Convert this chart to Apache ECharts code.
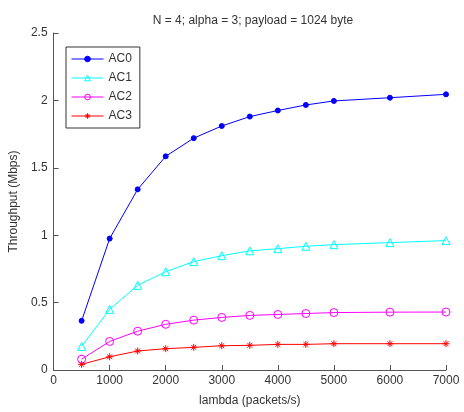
<!DOCTYPE html>
<html>
<head>
<meta charset="utf-8">
<script src="https://cdn.jsdelivr.net/npm/echarts@6/dist/echarts.min.js"></script>
<style>
  html, body { margin: 0; padding: 0; background: #fff; }
  #chart { width: 464px; height: 412px; }
</style>
</head>
<body>
<div id="chart"></div>
<script>
'use strict';

// 数据
const lambdaValues = [500, 1000, 1500, 2000, 2500, 3000, 3500, 4000, 4500, 5000, 6000, 7000];
const ac0 = [0.365, 0.975, 1.34, 1.585, 1.72, 1.81, 1.88, 1.925, 1.966, 1.996, 2.02, 2.045];
const ac1 = [0.175, 0.45, 0.628, 0.729, 0.804, 0.848, 0.884, 0.90, 0.918, 0.93, 0.945, 0.96];
const ac2 = [0.08, 0.212, 0.288, 0.339, 0.37, 0.39, 0.405, 0.412, 0.419, 0.426, 0.429, 0.43];
const ac3 = [0.042, 0.098, 0.141, 0.158, 0.168, 0.18, 0.183, 0.19, 0.19, 0.195, 0.195, 0.195];
const seriesNames = ['AC0', 'AC1', 'AC2', 'AC3'];

const FONT = 'Liberation Sans, Arial, sans-serif';
const TEXT = '#333';
const AXIS = '#555';

// 星号标记
const STAR = 'path://M0,-10L0,10M-10,0L10,0M-7,-7L7,7M-7,7L7,-7';

// 每条曲线的样式
const styles = [
    { color: '#0000ff', symbol: 'circle', size: 5, filled: true },
    { color: '#00ffff', symbol: 'triangle', size: 8, filled: false },
    { color: '#ff00ff', symbol: 'circle', size: 8, filled: false },
    { color: '#ff0000', symbol: STAR, size: 7, filled: false }
];

function pairs(ys) {
    return lambdaValues.map((x, i) => [x, ys[i]]);
}

function makeItemStyle(s) {
    return {
        color: s.filled ? s.color : 'rgba(0,0,0,0)',
        borderColor: s.color,
        borderWidth: 1
    };
}

function makeSeries(name, ys, s) {
    return {
        name: name,
        type: 'line',
        data: pairs(ys),
        symbol: s.symbol,
        symbolSize: s.size,
        showAllSymbol: true,
        lineStyle: { color: s.color, width: 1 },
        itemStyle: makeItemStyle(s),
        emphasis: { disabled: true },
        z: 3
    };
}

const chart = echarts.init(document.getElementById('chart'));

const option = {
    animation: false,
    backgroundColor: '#fff',
    title: {
        text: 'N = 4; alpha = 3; payload = 1024 byte',
        left: 248,
        textAlign: 'center',
        top: 10,
        textStyle: { fontFamily: FONT, fontSize: 12, fontWeight: 'normal', color: TEXT }
    },
    legend: {
        orient: 'vertical',
        left: 66,
        top: 47,
        padding: [6, 8, 6, 5],
        itemGap: 7,
        itemWidth: 32,
        itemHeight: 7,
        borderColor: '#333',
        borderWidth: 1,
        backgroundColor: '#fff',
        lineStyle: { width: 1 },
        data: seriesNames.map((n, i) => ({
            name: n,
            itemStyle: makeItemStyle(styles[i])
        })),
        textStyle: { fontFamily: FONT, fontSize: 12, color: TEXT }
    },
    grid: { left: 50, right: 18, top: 33, bottom: 37, containLabel: false },
    xAxis: {
        type: 'value',
        min: 0,
        max: 7000,
        interval: 1000,
        name: 'lambda (packets/s)',
        nameLocation: 'middle',
        nameGap: 25,
        nameTextStyle: { fontFamily: FONT, fontSize: 12, color: TEXT },
        axisLine: { show: true, lineStyle: { color: AXIS } },
        axisTick: { show: true, inside: true, length: 5, lineStyle: { color: AXIS } },
        axisLabel: { fontFamily: FONT, fontSize: 12, color: TEXT, margin: 5, formatter: v => String(v) },
        splitLine: { show: false }
    },
    yAxis: {
        type: 'value',
        min: 0,
        max: 2.5,
        interval: 0.5,
        name: 'Throughput (Mbps)',
        nameLocation: 'middle',
        nameGap: 22,
        nameTextStyle: { fontFamily: FONT, fontSize: 12, color: TEXT },
        axisLine: { show: true, lineStyle: { color: AXIS } },
        axisTick: { show: true, inside: true, length: 5, lineStyle: { color: AXIS } },
        axisLabel: { fontFamily: FONT, fontSize: 12, color: TEXT, margin: 6, formatter: v => String(v) },
        splitLine: { show: false }
    },
    series: seriesNames.map((n, i) => makeSeries(n, [ac0, ac1, ac2, ac3][i], styles[i]))
};

chart.setOption(option);
</script>
</body>
</html>
